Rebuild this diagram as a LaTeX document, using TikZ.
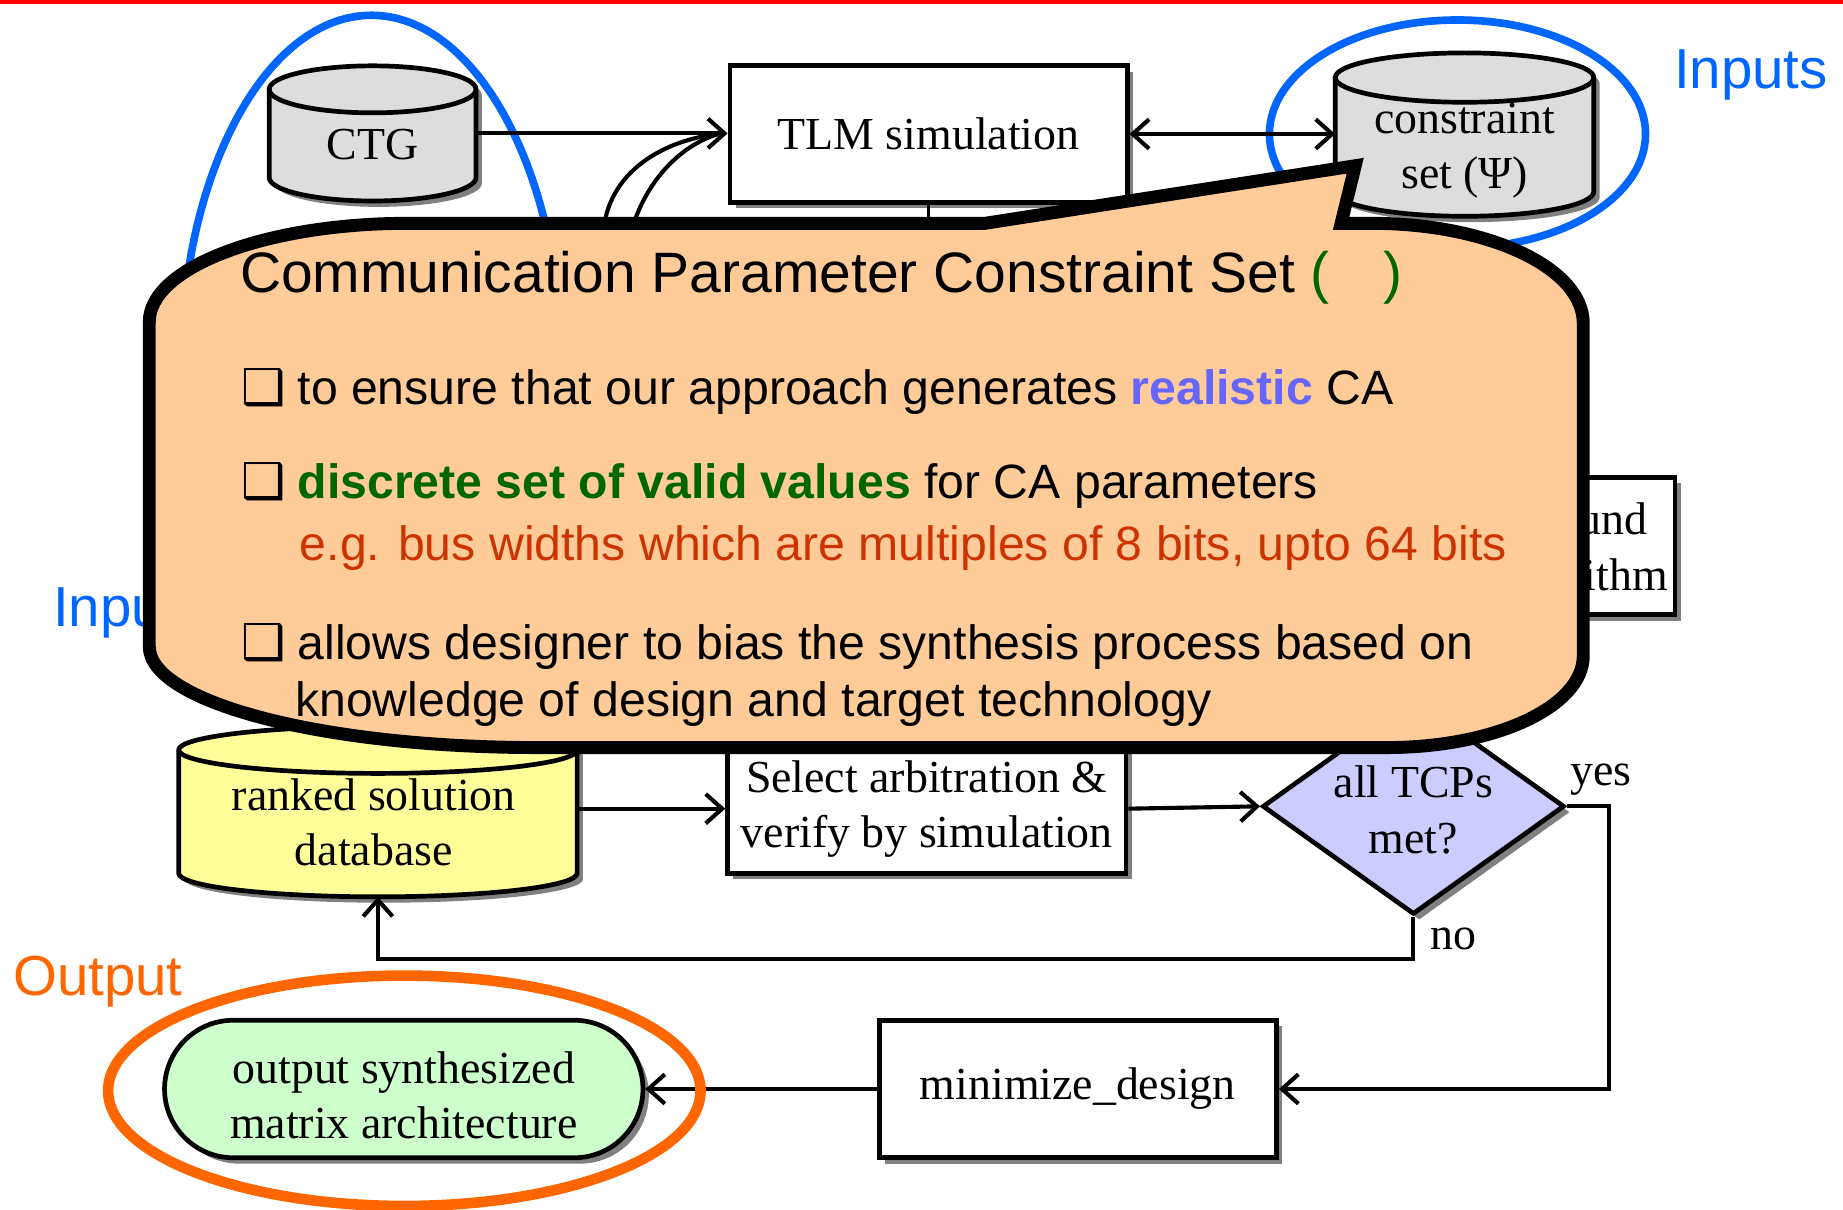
\documentclass[tikz,border=0pt]{standalone}
\usepackage{fontspec}
\setmainfont{Liberation Serif}
\newfontfamily\sansf{Liberation Sans}
\newfontfamily\symf{DejaVu Sans}
\usetikzlibrary{arrows.meta,shapes.geometric,shapes.misc,shadows}

\definecolor{topred}{HTML}{FF0000}
\definecolor{ringblue}{HTML}{0066FF}
\definecolor{ringorange}{HTML}{FF6600}
\definecolor{shadowc}{HTML}{808080}
\definecolor{dbgray}{HTML}{DDDDDD}
\definecolor{dbyellow}{HTML}{FFFF99}
\definecolor{tcpfill}{HTML}{CCCCFF}
\definecolor{outfill}{HTML}{CCFFCC}
\definecolor{calloutfill}{HTML}{FFCC99}
\definecolor{cgreen}{HTML}{006600}
\definecolor{creal}{HTML}{6666FF}
\definecolor{cred}{HTML}{CC3300}

\newcommand\nodefont{\fontsize{39}{47}\selectfont}
\newcommand\labelfont{\sansf\fontsize{48}{57}\selectfont}
\newcommand\titlefont{\sansf\fontsize{48.5}{58}\selectfont}
\newcommand\bodyfont{\sansf\fontsize{41}{50}\selectfont}
\newcommand\bulletfont{\symf\fontsize{42}{48}\selectfont}

% cylinder outline: centre x, top y, x radius, bottom y, end-cap y radius
\newcommand\cylpath[5]{(#1-#3,-#2-#5) -- (#1-#3,-#4+#5) arc[start angle=180,end angle=360,x radius=#3pt,y radius=#5pt] -- (#1+#3,-#2-#5) arc[start angle=0,end angle=180,x radius=#3pt,y radius=#5pt] -- cycle}
% front rim of the cylinder lid
\newcommand\cyllid[4]{(#1-#3,-#2-#4) arc[start angle=180,end angle=360,x radius=#3pt,y radius=#4pt]}

\tikzset{
  shadowed/.style={drop shadow={shadow xshift=5pt,shadow yshift=-5pt,fill=shadowc,opacity=1}},
  box/.style={rectangle,draw,line width=4pt,fill=white,inner sep=0,font=\nodefont,align=center,shadowed},
  area/.style={rectangle,inner sep=0,outer sep=0},
  txt/.style={inner sep=0,font=\nodefont,align=center},
  arr/.style={line width=3.5pt,-{Straight Barb[length=14pt,width=25pt]}},
  darr/.style={line width=3.5pt,{Straight Barb[length=14pt,width=25pt]}-{Straight Barb[length=14pt,width=25pt]}},
  link/.style={line width=3.5pt},
  ring/.style={line width=#1},
  ctext/.style={inner sep=0,anchor=base west,font=\bodyfont},
  bul/.style={inner sep=0,anchor=base west,font=\bulletfont},
}

\begin{document}
\begin{tikzpicture}[x=1pt,y=1pt]
\useasboundingbox (0,0) rectangle (1568,-1028.6);

% red rule along the top
\fill[topred] (0,0) rectangle (1568,-3.5);

% rings marking the inputs
\draw[ringblue,ring=6.5pt] (316,-313) ellipse [x radius=162pt,y radius=300pt];
\draw[ringblue,ring=6.5pt] (1240,-114) ellipse [x radius=160pt,y radius=97pt];

\node[inner sep=0,anchor=base west,font=\labelfont,text=ringblue] (inlabA) at (1424,-75) {Inputs};
\node[inner sep=0,anchor=base west,font=\labelfont,text=ringblue] (inlabB) at (45,-533) {Inputs};
\node[inner sep=0,anchor=base west,font=\labelfont,text=ringorange] (outlab) at (11,-847) {Output};

% CTG database
\fill[shadowc,shift={(5pt,-5pt)}] \cylpath{317}{56}{88}{171}{20};
\filldraw[fill=dbgray,line width=4pt] \cylpath{317}{56}{88}{171}{20};
\draw[line width=4pt] \cyllid{317}{56}{88}{20};
\node[area,minimum width=176pt,minimum height=115pt] (ctg) at (317,-113.5) {};
\node[txt] (ctgtext) at (317,-123) {CTG};

% constraint set database
\fill[shadowc,shift={(5pt,-5pt)}] \cylpath{1246}{45}{110}{184}{21};
\filldraw[fill=dbgray,line width=4pt] \cylpath{1246}{45}{110}{184}{21};
\draw[line width=4pt] \cyllid{1246}{45}{110}{21};
\node[area,minimum width=220pt,minimum height=139pt] (cons) at (1246,-114.5) {};
\node[txt] (constext) at (1246,-128.5) {constraint\\set (Ψ)};

% TLM simulation
\node[box,minimum width=338pt,minimum height=116pt] (tlm) at (790,-114) {TLM simulation};

% partly covered algorithm box
\node[box,minimum width=225pt,minimum height=117pt] (bb) at (1312.5,-464.5) {};
\node[txt,anchor=base east] (bbA) at (1402,-455) {bound};
\node[txt,anchor=base east] (bbB) at (1419,-502) {algorithm};

% ranked solution database
\fill[shadowc,shift={(5pt,-5pt)}] \cylpath{321.5}{618}{169.5}{763}{20};
\filldraw[fill=dbyellow,line width=4pt] \cylpath{321.5}{618}{169.5}{763}{20};
\draw[line width=4pt] \cyllid{321.5}{618}{169.5}{20};
\node[area,minimum width=339pt,minimum height=145pt] (ranked) at (321.5,-690.5) {};
\node[txt] (rankedtext) at (318,-699.5) {ranked solution\\database};

% selection step and decision
\node[box,minimum width=339pt,minimum height=110pt] (sel) at (788.5,-688) {Select arbitration \&\\verify by simulation};
\node[diamond,draw,line width=4pt,fill=tcpfill,inner sep=0,minimum width=257pt,minimum height=184pt,shadowed] (tcp) at (1202.5,-686) {};
\node[txt] (tcptext) at (1202.5,-689) {all TCPs\\met?};

% final steps
\node[box,minimum width=338pt,minimum height=117pt] (mini) at (917,-926.5) {minimize\_design};
\node[rounded rectangle,draw,line width=4pt,fill=outfill,inner sep=0,minimum width=407pt,minimum height=117pt,shadowed] (outnode) at (343.5,-926.5) {};
\node[txt] (outtext) at (343.5,-932) {output synthesized\\matrix architecture};

% connectors
\coordinate (feedA) at (513,-205);
\coordinate (feedB) at (535,-205);
\coordinate (down) at (790,-205);
\draw[link] (feedA) .. controls (513,-150) and (560,-120) .. ([xshift=-8pt]tlm.west);
\draw[link] (feedB) .. controls (545,-160) and (575,-125) .. ([xshift=-8pt]tlm.west);
\draw[arr] (ctg.east) -- (ctg.east -| tlm.west);
\draw[darr] (tlm.east) -- (tlm.east -| cons.west);
\draw[line width=2.5pt] (tlm.south) -- (down);
\draw[arr] (ranked.east |- sel.west) -- (sel.west);
\draw[arr] (sel.east) -- (tcp.west);
\draw[arr] (tcp.east) -- ++(36,0) |- (mini.east);
\draw[arr] (tcp.south) -- ++(0,-36) -| (ranked.south);
\draw[arr] (mini.west) -- (outnode.east);
\node[txt,anchor=base west] (yes) at (1336,-668) {yes};
\node[txt,anchor=base west] (no) at (1217,-808) {no};

% ring marking the output
\draw[ringorange,ring=9pt] (344,-928) ellipse [x radius=252pt,y radius=98pt];

% callout
\draw[line width=11pt,line join=miter,miter limit=8,fill=calloutfill]
  (127,-274) -- (127,-550)
  arc[start angle=180,end angle=270,x radius=330pt,y radius=86pt]
  -- (1180,-636)
  arc[start angle=270,end angle=360,x radius=167pt,y radius=78pt]
  -- (1347,-275)
  arc[start angle=0,end angle=90,x radius=180pt,y radius=85pt]
  -- (1141,-190) -- (1153,-141) -- (838,-190) -- (347,-190)
  arc[start angle=90,end angle=180,x radius=220pt,y radius=84pt]
  -- cycle;

\node[inner sep=0,anchor=base west,font=\titlefont] (title) at (204,-249)
  {Communication Parameter Constraint Set \textcolor{cgreen}{(\hspace{46pt})}};
\node[bul] (bulA) at (205,-344) {❑};
\node[ctext] (lineA) at (253,-344) {to ensure that our approach generates \textcolor{creal}{\bfseries realistic} CA};
\node[bul] (bulB) at (205,-424) {❑};
\node[ctext] (lineB) at (253,-424) {\textcolor{cgreen}{\bfseries discrete set of valid values} for CA parameters};
\node[ctext,text=cred] (lineBB) at (255,-477) {e.g. bus widths which are multiples of 8 bits, upto 64 bits};
\node[bul] (bulC) at (205,-561) {❑};
\node[ctext] (lineC) at (253,-561) {allows designer to bias the synthesis process based on};
\node[ctext] (lineCC) at (251,-610) {knowledge of design and target technology};
\end{tikzpicture}
\end{document}
